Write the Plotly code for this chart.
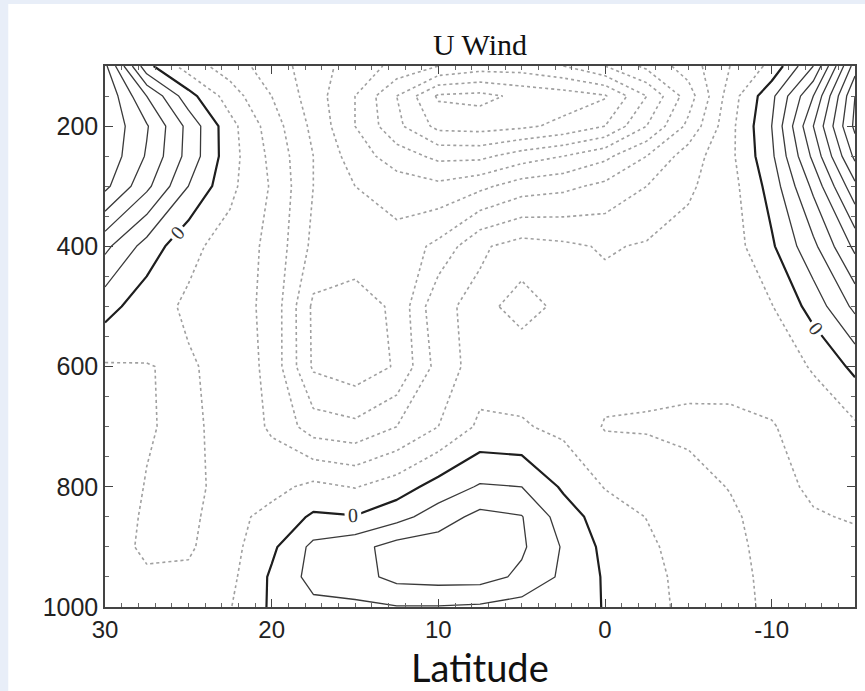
import plotly.graph_objects as go

# Latitude (deg N) and pressure levels (hPa)
lats = [30, 27.5, 25, 22.5, 20, 17.5, 15, 12.5, 10, 7.5, 5, 2.5, 0, -2.5, -5, -7.5, -10, -12.5, -15]
pressures = [100, 150, 200, 250, 300, 400, 500, 600, 700, 800, 850, 900, 950, 1000]

# Zonal wind U (m/s) on each pressure level, ordered as lats
u_100 = [10.5, 0.6, -3, -5, -7, -9, -11, -12.5, -14, -15, -15, -14, -12, -9.5, -7, -4, -1.5, 4, 15]
u_150 = [11.8, 6, 0.8, -3, -6, -9, -12, -16, -20.3, -20.6, -19.5, -19, -18.2, -14, -9, -3, 1.5, 8, 18]
u_200 = [11.7, 8.2, 3.4, -1.3, -5, -8.5, -12, -15.5, -18.6, -18.8, -18.4, -17.5, -16, -12, -7.5, -2.6, 2, 10, 18.5]
u_250 = [11.5, 7.8, 3.3, -1.2, -4.5, -8, -11, -13, -14.5, -14.5, -13, -12, -10.5, -8, -5, -2.5, 1.6, 8.5, 16.5]
u_300 = [10.5, 6.5, 2, -1.5, -4.2, -8, -10, -11, -11.5, -10.5, -9, -8.5, -7.5, -6, -4.3, -2.8, 0.8, 6.5, 13.5]
u_400 = [4.5, 1.2, -1.5, -2.8, -4.5, -8.5, -8.8, -9.2, -7.5, -4.3, -3.2, -3.6, -4.2, -3.8, -3.3, -3, -0.3, 3.5, 8.5]
u_500 = [0.8, -1.2, -2.3, -3.0, -4.6, -10.4, -11, -9.6, -4.4, -3.5, -4.6, -3.6, -3.3, -3.2, -3.2, -3.3, -2.1, 0.8, 4.5]
u_600 = [-2.2, -2.05, -1.8, -2.6, -4.6, -10.3, -11.2, -9.8, -5.2, -3.0, -3.0, -3.0, -3.2, -3.4, -3.6, -3.5, -3.2, -1.8, 0.5]
u_700 = [-2.5, -2.1, -1.7, -2.5, -4.3, -7, -7.5, -6, -4, -1.6, -1.8, -2.5, -4.15, -4.2, -4.25, -4.3, -4.1, -3.3, -2.3]
u_800 = [-2.6, -1.95, -1.7, -2.4, -2.6, -1.5, -2.1, -1.0, 0.8, 2.2, 2.0, -0.3, -2.1, -2.6, -3.6, -4.05, -4.4, -3.8, -3.4]
u_850 = [-2.6, -1.85, -1.75, -2.6, -1.4, 0.3, 0.1, 1.3, 3.0, 4.6, 4.1, 1.0, -1.0, -2.05, -3.2, -3.8, -4.5, -4.1, -3.9]
u_900 = [-2.5, -1.8, -1.85, -2.7, -0.4, 2.5, 3.3, 4.8, 5, 5.2, 4.3, 1.8, -0.5, -1.6, -2.9, -3.6, -4.5, -4.3, -4.3]
u_950 = [-2.6, -2.15, -2.2, -2.5, 0.3, 2.7, 3.2, 4.6, 4.8, 4.8, 3.6, 1.6, -0.2, -1.3, -2.7, -3.5, -4.4, -4.3, -4.4]
u_1000 = [-2.8, -2.5, -2.6, -2.1, 0.3, 1.5, 1.6, 1.9, 1.9, 1.7, 1.2, 1.0, -0.1, -1.2, -2.6, -3.5, -4.3, -4.2, -4.3]

u_wind = [u_100, u_150, u_200, u_250, u_300, u_400, u_500, u_600, u_700,
          u_800, u_850, u_900, u_950, u_1000]

x_ticks = [30, 20, 10, 0, -10]
x_ticklabels = ["30", "20", "10", "0", "-10"]
y_ticks = [200, 400, 600, 800, 1000]
y_ticklabels = ["200", "400", "600", "800", "1000"]

interval = 2

fig = go.Figure()

# negative contours: dotted grey
fig.add_trace(go.Contour(
    x=lats, y=pressures, z=u_wind,
    contours=dict(start=-24, end=-interval, size=interval, coloring="none"),
    line=dict(color="#a0a0a0", width=1.6, dash="dot"),
    showscale=False, hoverinfo="skip", line_smoothing=0,
))
# positive contours: solid
fig.add_trace(go.Contour(
    x=lats, y=pressures, z=u_wind,
    contours=dict(start=interval, end=24, size=interval, coloring="none"),
    line=dict(color="#3a3a3a", width=1.3),
    showscale=False, hoverinfo="skip", line_smoothing=0,
))
# zero contour: thick solid, labelled
fig.add_trace(go.Contour(
    x=lats, y=pressures, z=u_wind,
    contours=dict(start=0, end=0, size=100, coloring="none", showlabels=True,
                  labelfont=dict(family="Liberation Serif", size=20, color="#333")),
    line=dict(color="#1e1e1e", width=2.2),
    showscale=False, hoverinfo="skip", line_smoothing=0,
))

# page background: light blue border with white sheet
L, R, T, B = 105, 8, 66, 84
W, H = 865, 691
pw, ph = W - L - R, H - T - B
def px(X):
    return (X - L) / pw
def py(Y):
    return (H - B - Y) / ph

fig.add_shape(type="rect", xref="paper", yref="paper",
              x0=px(8), x1=px(W + 5), y0=py(H + 5), y1=py(4),
              fillcolor="white", line_width=0, layer="below")

fig.update_layout(
    width=W, height=H,
    margin=dict(l=L, r=R, t=T, b=B),
    paper_bgcolor="#e8eef8",
    plot_bgcolor="white",
    showlegend=False,
    annotations=[
        dict(text="U Wind", x=0.5, y=py(45), xref="paper", yref="paper",
             showarrow=False, font=dict(family="Liberation Serif", size=30, color="#111"),
             xanchor="center", yanchor="middle"),
        dict(text="Latitude", x=px(481), y=py(667), xref="paper", yref="paper",
             showarrow=False, font=dict(family="Lato", size=38, color="#111"),
             xanchor="center", yanchor="middle"),
    ],
)

fig.update_xaxes(
    range=[30, -15], tickvals=x_ticks, ticktext=x_ticklabels,
    ticks="inside", ticklen=8, tickwidth=1.2, tickcolor="#444",
    minor=dict(dtick=1, ticks="inside", ticklen=4, tickcolor="#666", tickwidth=1),
    showline=True, linecolor="#444", linewidth=1.5, mirror="allticks",
    showgrid=False, zeroline=False,
    tickfont=dict(family="Liberation Sans", size=24, color="#222"),
)
fig.update_yaxes(
    range=[1000, 100], tickvals=y_ticks, ticktext=y_ticklabels,
    ticks="inside", ticklen=8, tickwidth=1.2, tickcolor="#444",
    minor=dict(dtick=50, ticks="inside", ticklen=4, tickcolor="#666", tickwidth=1),
    showline=True, linecolor="#444", linewidth=1.5, mirror="allticks",
    showgrid=False, zeroline=False,
    tickfont=dict(family="Liberation Sans", size=25, color="#222"),
)

fig.write_html("out.html")
